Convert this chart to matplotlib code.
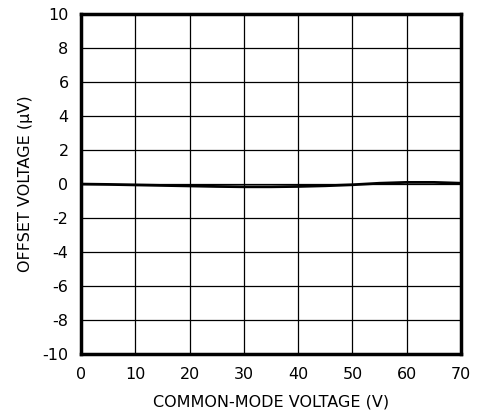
import matplotlib.pyplot as plt
import numpy as np

plt.rcParams['axes.unicode_minus'] = False

# common-mode voltage (V) vs offset voltage (uV)
vcm = [0, 5, 10, 15, 20, 25, 30, 35, 40, 45, 50, 55, 60, 65, 70]
vos = [0, -0.02, -0.05, -0.08, -0.11, -0.14, -0.16, -0.16, -0.14, -0.1, -0.04, 0.05, 0.1, 0.1, 0.05]

xticks = np.arange(0, 71, 10)
yticks = np.arange(-10, 11, 2)

fig = plt.figure(figsize=(4.78, 4.16), dpi=100)
ax = fig.add_axes([0.1695, 0.149, 0.795, 0.817])

ax.plot(vcm, vos, color='black', linewidth=2.0)
ax.set_xlim((0, 70))
ax.set_ylim((-10, 10))
ax.set_xticks(xticks)
ax.set_yticks(yticks)
ax.grid(True, color='black', linewidth=0.9)
ax.tick_params(length=0, labelsize=11.5, pad=9)

for s in ax.spines.values():
    s.set_linewidth(2.5)

ax.set_xlabel('COMMON-MODE VOLTAGE (V)', fontsize=11.5, labelpad=9)
ax.set_ylabel('OFFSET VOLTAGE (µV)', fontsize=11.5, labelpad=7)

plt.savefig('out.png', dpi=100)
